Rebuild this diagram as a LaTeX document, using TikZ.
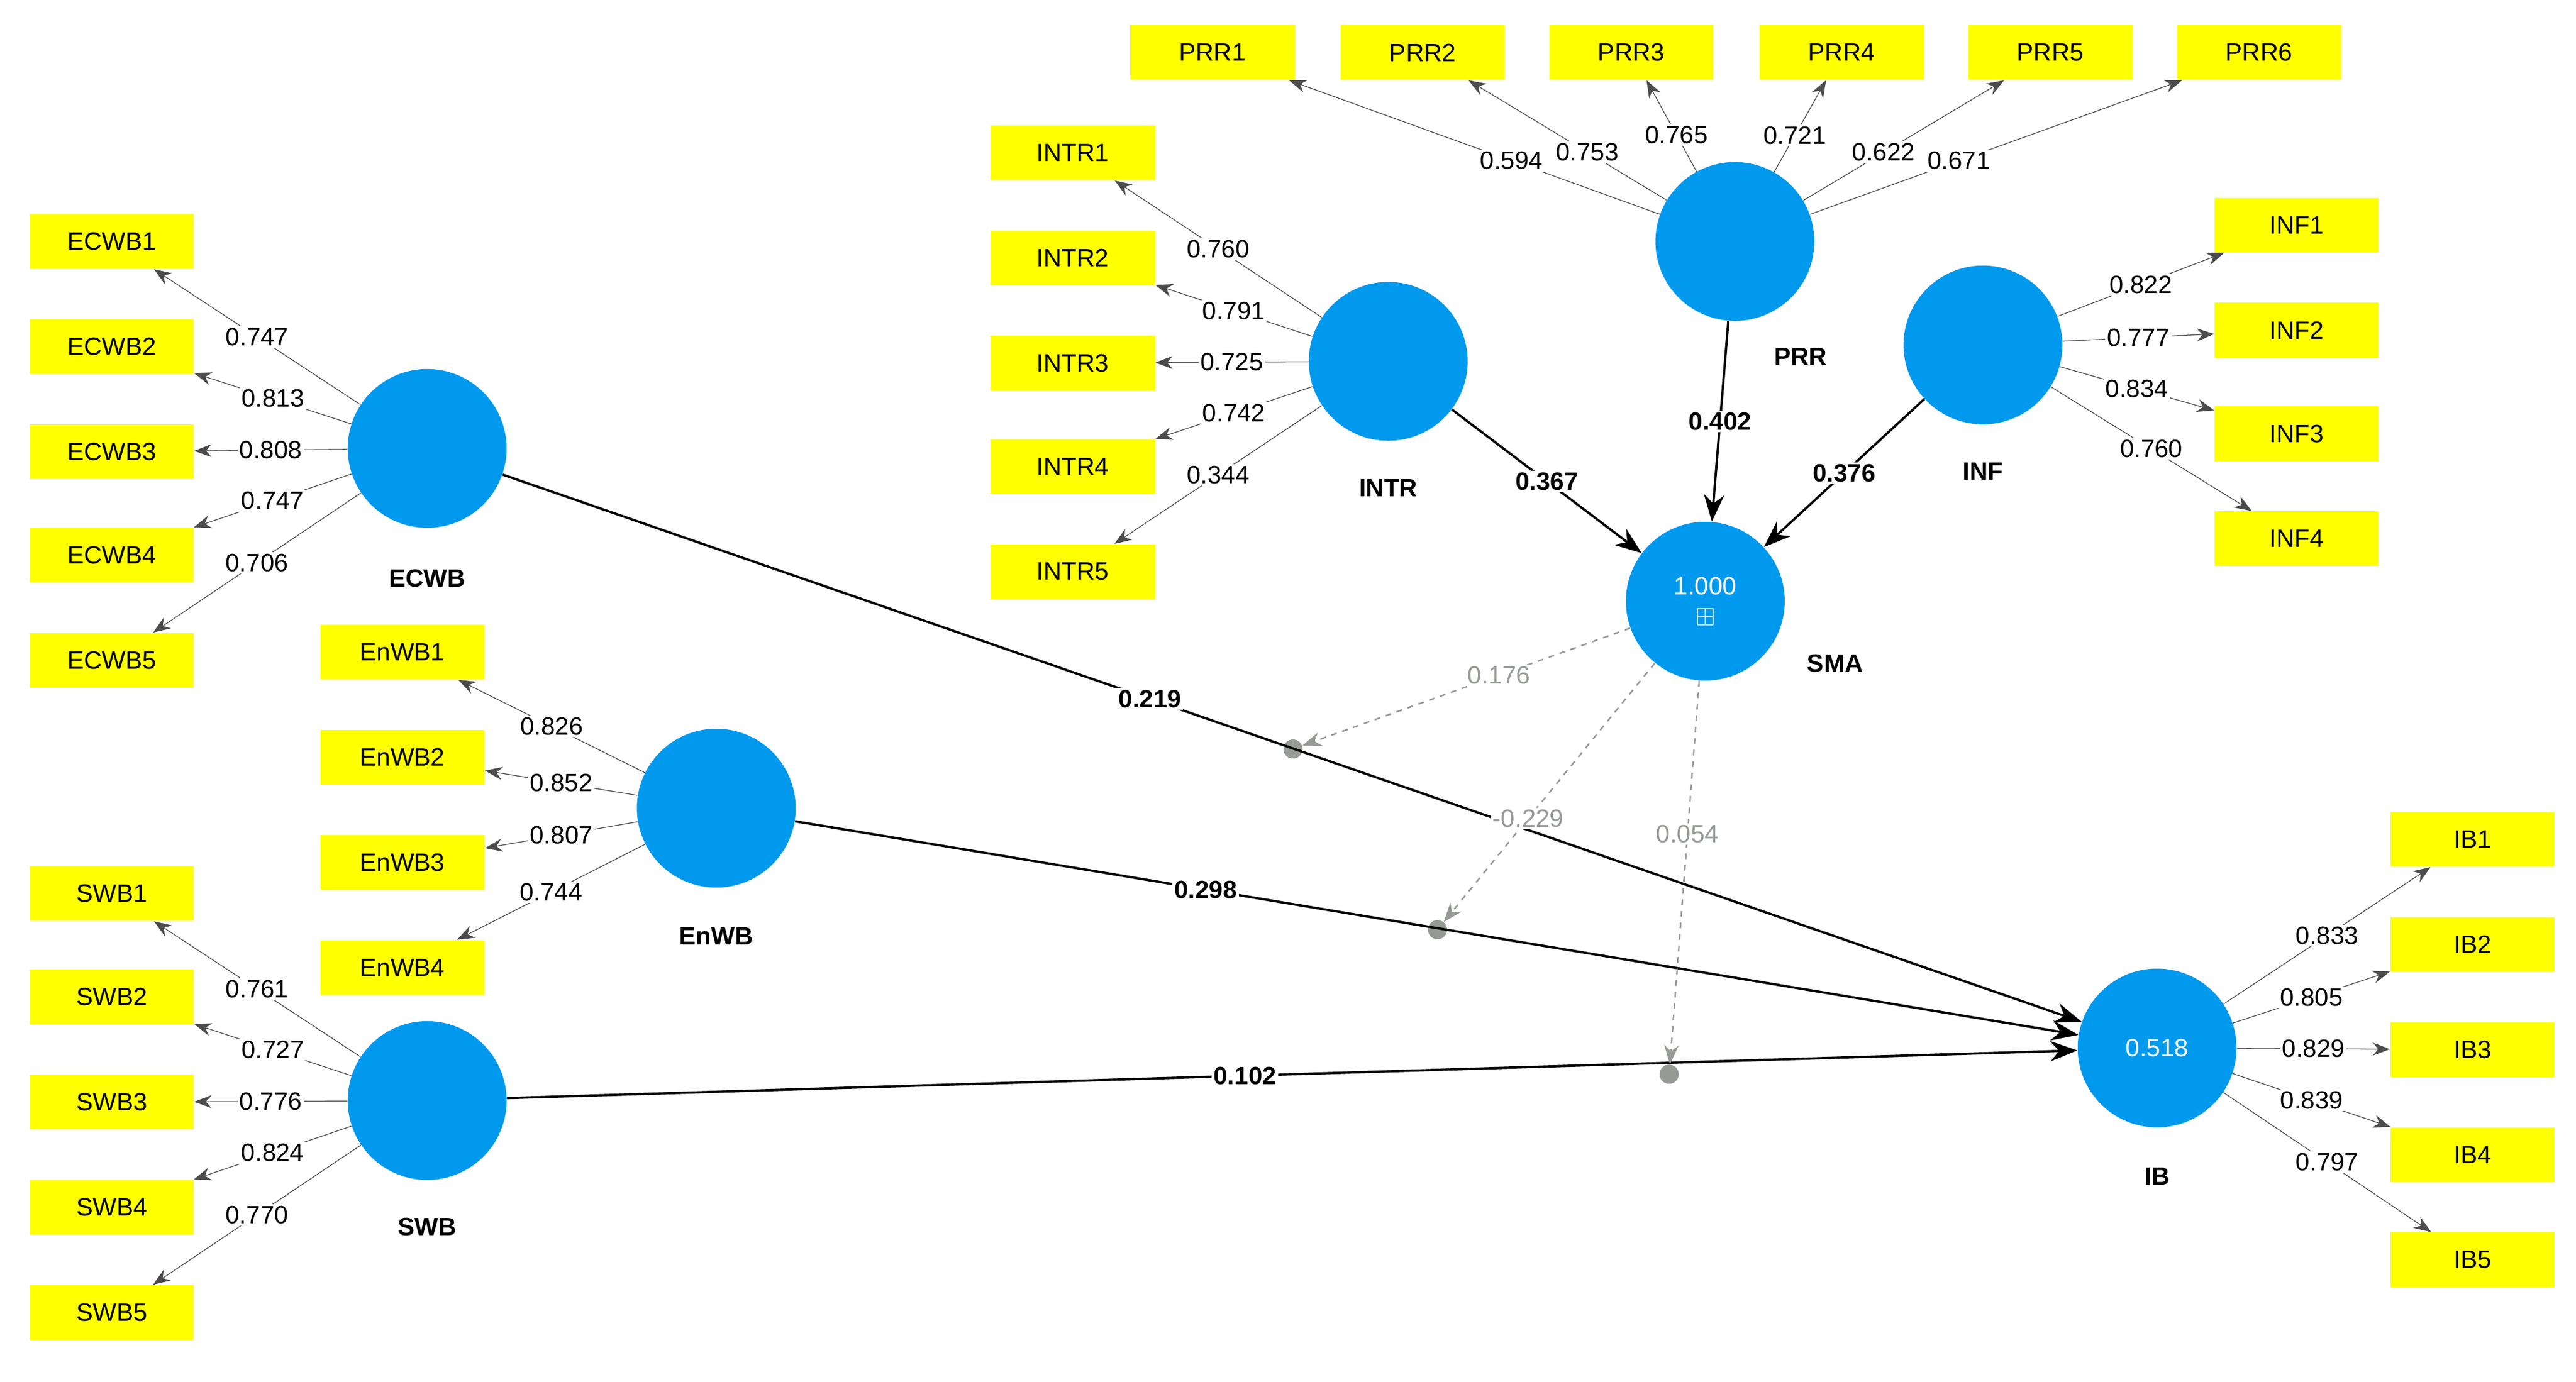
\documentclass[tikz,border=0pt]{standalone}
\usepackage{amssymb}
\usepackage{fontspec}
\setmainfont{Liberation Sans}
\usetikzlibrary{arrows.meta}
\definecolor{lvblue}{RGB}{0,153,238}
\definecolor{mvyellow}{RGB}{255,255,0}
\definecolor{modgray}{RGB}{150,155,150}
\begin{document}
\begin{tikzpicture}[x=0.03cm,y=-0.03cm,font=\fontsize{13}{15}\selectfont]
    \useasboundingbox (0,0) rectangle (1568,841);
    \tikzset{lv/.style={circle,fill=lvblue,minimum size=2.9cm,inner sep=0pt,text=white},
      mv/.style={rectangle,fill=mvyellow,minimum width=3cm,minimum height=1cm,inner sep=0pt},
      lvname/.style={font=\fontsize{13}{15}\selectfont\bfseries},
      load/.style={draw=black!70,-{Stealth[length=9pt]}},
      path/.style={draw=black,very thick,-{Stealth[length=14pt]}},
      modpath/.style={draw=modgray,thick,dashed,-{Stealth[length=10pt]}},
      val/.style={fill=white,inner sep=1pt},
      dot/.style={circle,fill=modgray,inner sep=0pt,minimum size=0.35cm}}

    % latent variables
    \node[lv] (ECWB) at (260,273) {};
    \node[lv] (EnWB) at (436,492) {};
    \node[lv] (SWB) at (260,670) {};
    \node[lv] (INTR) at (845,220) {};
    \node[lv] (PRR) at (1056,147) {};
    \node[lv] (INF) at (1207,210) {};
    \node[lv,align=center] (SMA) at (1038,366) {1.000\\[1pt]$\boxplus$};
    \node[lv] (IB) at (1313,638) {0.518};

    \node[lvname] (ECWBn) at (260,352) {ECWB};
    \node[lvname] (EnWBn) at (436,570) {EnWB};
    \node[lvname] (SWBn) at (260,747) {SWB};
    \node[lvname] (INTRn) at (845,297) {INTR};
    \node[lvname] (PRRn) at (1096,217) {PRR};
    \node[lvname] (INFn) at (1207,287) {INF};
    \node[lvname] (SMAn) at (1117,404) {SMA};
    \node[lvname] (IBn) at (1313,716) {IB};

    % indicators and loadings
    \foreach \i/\y/\v in {1/147/0.747,2/211/0.813,3/275/0.808,4/338/0.747,5/402/0.706} {
      \node[mv] (ECWB\i) at (68,\y) {ECWB\i};
      \path[load] (ECWB) -- node[val] {\v} (ECWB\i);
    }
    \foreach \i/\y/\v in {1/397/0.826,2/461/0.852,3/525/0.807,4/589/0.744} {
      \node[mv] (EnWB\i) at (245,\y) {EnWB\i};
      \path[load] (EnWB) -- node[val] {\v} (EnWB\i);
    }
    \foreach \i/\y/\v in {1/544/0.761,2/607/0.727,3/671/0.776,4/735/0.824,5/799/0.770} {
      \node[mv] (SWB\i) at (68,\y) {SWB\i};
      \path[load] (SWB) -- node[val] {\v} (SWB\i);
    }
    \foreach \i/\y/\v in {1/93/0.760,2/157/0.791,3/221/0.725,4/284/0.742,5/348/0.344} {
      \node[mv] (INTR\i) at (653,\y) {INTR\i};
      \path[load] (INTR) -- node[val] {\v} (INTR\i);
    }
    \foreach \i/\x/\v in {1/738/0.594,2/866/0.753,3/993/0.765,4/1121/0.721,5/1248/0.622,6/1375/0.671} {
      \node[mv] (PRR\i) at (\x,32) {PRR\i};
      \path[load] (PRR) -- node[val,pos=0.4] {\v} (PRR\i);
    }
    \foreach \i/\y/\v in {1/137/0.822,2/201/0.777,3/264/0.834,4/328/0.760} {
      \node[mv] (INF\i) at (1398,\y) {INF\i};
      \path[load] (INF) -- node[val] {\v} (INF\i);
    }
    \foreach \i/\y/\v in {1/511/0.833,2/575/0.805,3/639/0.829,4/703/0.839,5/767/0.797} {
      \node[mv] (IB\i) at (1505,\y) {IB\i};
      \path[load] (IB) -- node[val] {\v} (IB\i);
    }

    % structural paths
    \node[dot] (m1) at (787,456) {};
    \node[dot] (m2) at (875,566) {};
    \node[dot] (m3) at (1016,654) {};
    \path[path] (ECWB) -- node[val,pos=0.41,font=\fontsize{13}{15}\selectfont\bfseries] {0.219} (IB);
    \path[path] (EnWB) -- node[val,pos=0.32,font=\fontsize{13}{15}\selectfont\bfseries] {0.298} (IB);
    \path[path] (SWB) -- node[val,pos=0.47,font=\fontsize{13}{15}\selectfont\bfseries] {0.102} (IB);
    \path[path] (INTR) -- node[val,font=\fontsize{13}{15}\selectfont\bfseries] {0.367} (SMA);
    \path[path] (PRR) -- node[val,font=\fontsize{13}{15}\selectfont\bfseries] {0.402} (SMA);
    \path[path] (INF) -- node[val,font=\fontsize{13}{15}\selectfont\bfseries] {0.376} (SMA);

    % moderating effects
    \path[modpath] (SMA) -- node[val,text=modgray,pos=0.4] {0.176} (m1);
    \path[modpath] (SMA) -- node[val,text=modgray,pos=0.6] {-0.229} (m2);
    \path[modpath] (SMA) -- node[val,text=modgray,pos=0.4] {0.054} (m3);
\end{tikzpicture}
\end{document}
